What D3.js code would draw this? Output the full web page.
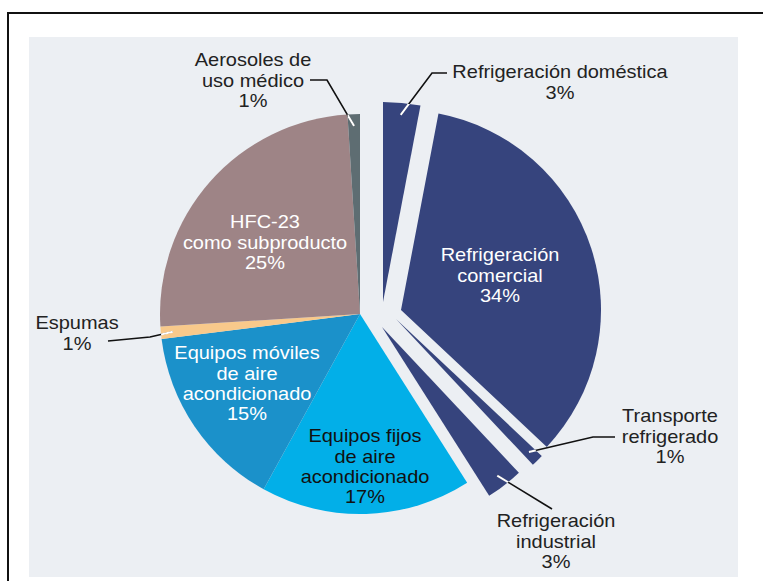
<!DOCTYPE html>
<html>
<head>
<meta charset="utf-8">
<script src="https://cdn.jsdelivr.net/npm/d3@7"></script>
<style>
  body { margin: 0; background: #fff; }
  text { font-family: "Liberation Sans", Arial, sans-serif; }
</style>
</head>
<body>
<div id="chart"></div>
<script>
// data, clockwise from 12 o'clock
var names = ["Refrigeración doméstica", "Refrigeración comercial", "Transporte refrigerado",
    "Refrigeración industrial", "Equipos fijos de aire acondicionado",
    "Equipos móviles de aire acondicionado", "Espumas", "HFC-23 como subproducto",
    "Aerosoles de uso médico"];
var values = [3, 34, 1, 3, 17, 15, 1, 25, 1];
var labelLines = [
    ["Refrigeración doméstica", "3%"],
    ["Refrigeración", "comercial", "34%"],
    ["Transporte", "refrigerado", "1%"],
    ["Refrigeración", "industrial", "3%"],
    ["Equipos fijos", "de aire", "acondicionado", "17%"],
    ["Equipos móviles", "de aire", "acondicionado", "15%"],
    ["Espumas", "1%"],
    ["HFC-23", "como subproducto", "25%"],
    ["Aerosoles de", "uso médico", "1%"]
];

var svgWidth = 763;
var svgHeight = 581;
var cx = 360, cy = 314, radius = 200;

var colors = ["#36447d", "#36447d", "#36447d", "#36447d", "#02afe8",
    "#1b91ca", "#f8c98b", "#9e8486", "#5e6d72"];

// shift of the pulled-out slices
var explode = [[23, -12], [41, -4], [36, 5], [22, 13], [0, 0], [0, 0], [0, 0], [0, 0], [0, 0]];

// label placement: x, y of first line, colour, leader (elbow, end)
var labelPos = [
    {x: 560, y: 72, fill: "#222", leader: [[432, 73], [447, 73]]},
    {x: 500, y: 255, fill: "#fff"},
    {x: 670, y: 416, fill: "#222", leader: [[593, 437], [615, 437]]},
    {x: 556, y: 521, fill: "#222", leader: [[552, 509]]},
    {x: 365, y: 436, fill: "#111"},
    {x: 247, y: 353, fill: "#fff"},
    {x: 77, y: 323, fill: "#222", leader: [[150, 337], [108, 341]]},
    {x: 265, y: 222, fill: "#fff"},
    {x: 253, y: 60, fill: "#222", leader: [[327, 80], [310, 80]]}
];

var svg = d3.select("#chart")
    .append("svg")
    .attr("width", svgWidth)
    .attr("height", svgHeight);

// frame and panel
svg.append("rect")
    .attr("x", 8).attr("y", 13)
    .attr("width", 800).attr("height", 620)
    .attr("fill", "#fff")
    .attr("stroke", "#111")
    .attr("stroke-width", 2);

svg.append("rect")
    .attr("x", 29).attr("y", 37)
    .attr("width", 709).attr("height", 540)
    .attr("fill", "#eceff3");

var pie = d3.pie().sort(null).value(d => d);
var arcs = pie(values);
var arc = d3.arc().innerRadius(0).outerRadius(radius);

var chartGroup = svg.append("g")
    .attr("transform", `translate(${cx}, ${cy})`);

var defs = svg.append("defs");
arcs.forEach(function (d, i) {
    defs.append("clipPath")
        .attr("id", "clip" + i)
        .append("path")
        .attr("d", arc(d))
        .attr("transform", `translate(${explode[i][0]}, ${explode[i][1]})`);
});

chartGroup.selectAll("path.slice")
    .data(arcs)
    .enter()
    .append("path")
    .attr("class", "slice")
    .attr("d", arc)
    .attr("fill", (d, i) => colors[i])
    .attr("transform", (d, i) => `translate(${explode[i][0]}, ${explode[i][1]})`);

// leader lines: black outside, white where they run over the slice
arcs.forEach(function (d, i) {
    var lp = labelPos[i];
    if (!lp.leader) return;
    var mid = (d.startAngle + d.endAngle) / 2;
    var r = 188;
    var start = [explode[i][0] + r * Math.sin(mid), explode[i][1] - r * Math.cos(mid)];
    var pts = [start].concat(lp.leader.map(p => [p[0] - cx, p[1] - cy]));
    var line = d3.line();
    chartGroup.append("path")
        .attr("d", line(pts))
        .attr("fill", "none")
        .attr("stroke", "#111")
        .attr("stroke-width", 1.6);
    chartGroup.append("path")
        .attr("d", line(pts))
        .attr("fill", "none")
        .attr("stroke", "#fff")
        .attr("stroke-width", 2)
        .attr("clip-path", `url(#clip${i})`);
});

// labels
var lineHeight = 20.3;
labelLines.forEach(function (lines, i) {
    var lp = labelPos[i];
    var t = svg.append("text")
        .attr("transform", `translate(${lp.x}, ${lp.y}) scale(1.11, 1)`)
        .attr("text-anchor", "middle")
        .attr("font-size", "18px")
        .attr("fill", lp.fill);
    lines.forEach(function (s, k) {
        t.append("tspan")
            .attr("x", 0)
            .attr("y", k * lineHeight)
            .attr("dy", "0.35em")
            .text(s);
    });
});
</script>
</body>
</html>
